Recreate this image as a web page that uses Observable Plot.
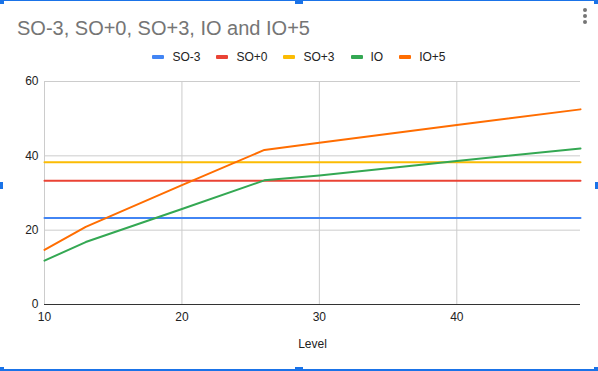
<!DOCTYPE html>
<html>
<head>
<meta charset="utf-8">
<script src="https://cdn.jsdelivr.net/npm/d3@7"></script>
<script src="https://cdn.jsdelivr.net/npm/@observablehq/plot@0.6"></script>
<style>
  html, body { margin: 0; padding: 0; background: #fff; }
  #wrap { position: relative; width: 598px; height: 371px; overflow: hidden; font-family: Arial, "Liberation Sans", sans-serif; }
  #wrap svg.plot { position: absolute; left: 0; top: 0; }
  #title { position: absolute; left: 17px; top: 16px; font-size: 20px; line-height: 24px; color: #757575; white-space: nowrap; }
  #legend { position: absolute; left: 0; width: 598px; top: 50px; height: 14px; display: flex; justify-content: center; align-items: center; font-size: 12px; line-height: 14px; color: #222; }
  .item { display: flex; align-items: center; margin: 0 8px; }
  .sw { width: 12px; height: 4px; border-radius: 1px; margin-right: 8px; }
  .dot { position: absolute; left: 583px; width: 4px; height: 4px; border-radius: 2px; background: #757575; }
  .sel { position: absolute; background: #1a73e8; }
</style>
</head>
<body>
<div id="wrap">
  <div id="title"></div>
  <div id="legend"></div>
</div>
<script>
const titleText = "SO-3, SO+0, SO+3, IO and IO+5";
const xLabel = "Level";
const levels = [10, 13, 20, 26, 30, 40, 49];
const soMinus3 = [23.3, 23.3, 23.3, 23.3, 23.3, 23.3, 23.3];
const soPlus0  = [33.3, 33.3, 33.3, 33.3, 33.3, 33.3, 33.3];
const soPlus3  = [38.3, 38.3, 38.3, 38.3, 38.3, 38.3, 38.3];
const io       = [11.8, 16.8, 25.7, 33.4, 34.7, 38.6, 42.0];
const ioPlus5  = [14.7, 20.9, 32.1, 41.6, 43.5, 48.3, 52.5];
const seriesNames = ["SO-3", "SO+0", "SO+3", "IO", "IO+5"];
const seriesColors = ["#4285f4", "#ea4335", "#fbbc04", "#34a853", "#ff6d01"];
const xTicks = [10, 20, 30, 40];
const yTicks = [0, 20, 40, 60];

const seriesValues = [soMinus3, soPlus0, soPlus3, io, ioPlus5];
const data = seriesNames.flatMap((s, i) => levels.map((l, j) => ({series: s, level: l, value: seriesValues[i][j]})));

const wrap = document.getElementById("wrap");
document.getElementById("title").textContent = titleText;

const legend = document.getElementById("legend");
seriesNames.forEach((s, i) => {
  const it = document.createElement("div");
  it.className = "item";
  const sw = document.createElement("div");
  sw.className = "sw";
  sw.style.background = seriesColors[i];
  const tx = document.createElement("span");
  tx.textContent = s;
  it.appendChild(sw); it.appendChild(tx);
  legend.appendChild(it);
});

const chart = Plot.plot({
  width: 598,
  height: 371,
  marginLeft: 44,
  marginRight: 18,
  marginTop: 81,
  marginBottom: 67,
  style: {fontFamily: 'Arial, "Liberation Sans", sans-serif', fontSize: "12px", color: "#222", background: "transparent"},
  x: {domain: [10, 49]},
  y: {domain: [0, 60]},
  color: {domain: seriesNames, range: seriesColors},
  marks: [
    Plot.gridX(xTicks, {stroke: "#cccccc", strokeOpacity: 1}),
    Plot.gridY(yTicks.filter(d => d > 0), {stroke: "#cccccc", strokeOpacity: 1}),
    Plot.axisX(xTicks, {tickSize: 0, tickPadding: 8, label: null}),
    Plot.axisY(yTicks, {tickSize: 0, tickPadding: 6, label: null}),
    Plot.ruleY([0], {stroke: "#333333"}),
    Plot.line(data, {x: "level", y: "value", z: "series", stroke: "series", strokeWidth: 2}),
    Plot.text([xLabel], {text: d => d, frameAnchor: "bottom", dy: 43, fontSize: 12, fill: "#222"})
  ]
});
chart.classList.add("plot");
wrap.insertBefore(chart, wrap.firstChild);

// menu dots
[10, 16, 22].forEach(y => {
  const d = document.createElement("div");
  d.className = "dot";
  d.style.top = (y - 2) + "px";
  wrap.appendChild(d);
});
// selection frame
const sel = [
  [0, 0, 596, 1], [0, 369, 596, 2],
  [0, 0, 4, 4], [295, 0, 8, 4], [594, 0, 4, 4],
  [0, 182, 3, 7], [595, 182, 3, 7],
  [0, 367, 4, 4], [295, 367, 8, 4], [594, 367, 4, 4]
];
sel.forEach(([x, y, w, h]) => {
  const d = document.createElement("div");
  d.className = "sel";
  Object.assign(d.style, {left: x + "px", top: y + "px", width: w + "px", height: h + "px"});
  wrap.appendChild(d);
});
</script>
</body>
</html>
